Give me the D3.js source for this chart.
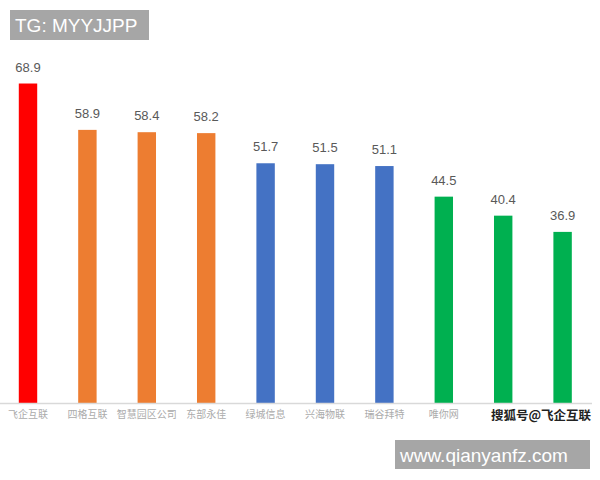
<!DOCTYPE html>
<html lang="zh">
<head>
<meta charset="utf-8">
<title>飞企互联</title>
<script src="https://cdnjs.cloudflare.com/ajax/libs/d3/7.8.5/d3.min.js"></script>
<style>
  html, body { margin: 0; padding: 0; background: #fff; }
  svg { display: block; }
</style>
</head>
<body>
<svg width="600" height="480"></svg>
<script>
  // data
  const companies = ["飞企互联", "四格互联", "智慧园区公司", "东部永佳", "绿城信息",
                     "兴海物联", "瑞谷拜特", "唯你网", "新视云", "科技公司"];
  const scores = [68.9, 58.9, 58.4, 58.2, 51.7, 51.5, 51.1, 44.5, 40.4, 36.9];
  const barColors = ["#FF0000", "#ED7D31", "#ED7D31", "#ED7D31", "#4472C4",
                     "#4472C4", "#4472C4", "#00B050", "#00B050", "#00B050"];
  // the last two names sit under the sohu watermark in the picture
  const hiddenNames = ["新视云", "科技公司"];

  const svg = d3.select("svg");
  const baseY = 403;

  const x = d3.scaleBand()
      .domain(companies)
      .range([-1.7, 592.3])
      .paddingInner(0.69)
      .paddingOuter(0.345);

  const y = d3.scaleLinear()
      .domain([0, 70])
      .range([baseY, baseY - 70 * 4.637]);

  // bars
  svg.append("g")
    .selectAll("rect")
    .data(companies)
    .join("rect")
      .attr("x", d => x(d))
      .attr("y", (d, i) => y(scores[i]))
      .attr("width", x.bandwidth())
      .attr("height", (d, i) => y(0) - y(scores[i]))
      .attr("fill", (d, i) => barColors[i]);

  // value labels
  svg.append("g")
    .selectAll("text")
    .data(companies)
    .join("text")
      .attr("x", d => x(d) + x.bandwidth() / 2)
      .attr("y", (d, i) => y(scores[i]) - 12)
      .attr("text-anchor", "middle")
      .attr("font-family", "Liberation Sans, Arial, sans-serif")
      .attr("font-size", 13)
      .attr("fill", "#595959")
      .text((d, i) => scores[i]);

  // category axis
  const xAxis = svg.append("g")
      .attr("transform", `translate(0,${baseY})`)
      .call(d3.axisBottom(x).tickSize(0).tickPadding(8)
        .tickFormat(d => hiddenNames.includes(d) ? "" : d));
  xAxis.select(".domain")
      .attr("d", "M0,0.5H592")
      .attr("stroke", "#d9d9d9")
      .attr("stroke-width", 1.5);
  xAxis.selectAll("text")
      .attr("font-family", "Noto Sans CJK SC, sans-serif")
      .attr("font-size", 10)
      .attr("fill", "#ababab");

  // top-left tag
  svg.append("rect")
      .attr("x", 10).attr("y", 10)
      .attr("width", 139).attr("height", 30)
      .attr("fill", "#a6a6a6");
  svg.append("text")
      .attr("x", 15).attr("y", 32)
      .attr("font-family", "Liberation Sans, Arial, sans-serif")
      .attr("font-size", 19)
      .attr("fill", "#fff")
      .text("TG: MYYJJPP");

  // sohu watermark over the last labels
  svg.append("rect")
      .attr("x", 489).attr("y", 405)
      .attr("width", 103).attr("height", 20)
      .attr("fill", "#fff");
  svg.append("text")
      .attr("x", 491).attr("y", 420)
      .attr("font-family", "Noto Sans CJK SC, sans-serif")
      .attr("font-size", 12.5)
      .attr("font-weight", "bold")
      .attr("fill", "#222")
      .text("搜狐号@飞企互联");

  // bottom url box
  svg.append("rect")
      .attr("x", 395).attr("y", 440)
      .attr("width", 195).attr("height", 29)
      .attr("fill", "#a6a6a6");
  svg.append("text")
      .attr("x", 400).attr("y", 462)
      .attr("font-family", "Liberation Sans, Arial, sans-serif")
      .attr("font-size", 19)
      .attr("fill", "#fff")
      .text("www.qianyanfz.com");
</script>
</body>
</html>
